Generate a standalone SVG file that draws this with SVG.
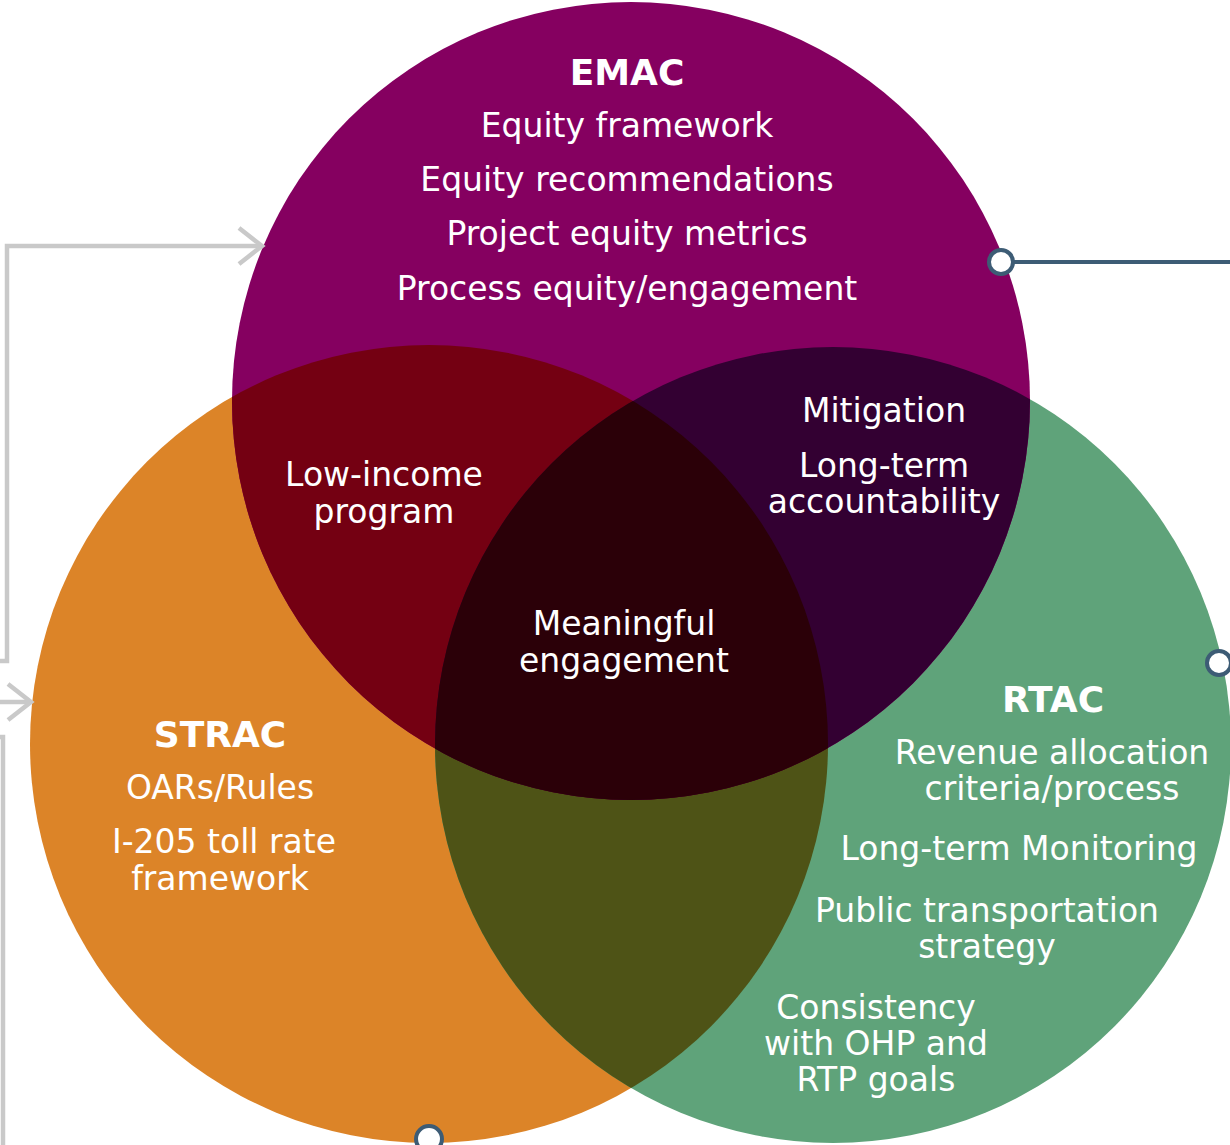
<svg xmlns="http://www.w3.org/2000/svg" width="1230" height="1145" viewBox="0 0 1230 1145">
  <style>
    .t { font-family: "DejaVu Sans", "Liberation Sans", sans-serif; font-size: 33px; fill: #FFFFFF; text-anchor: middle; }
    .h { font-family: "DejaVu Sans", "Liberation Sans", sans-serif; font-size: 36px; font-weight: bold; fill: #FFFFFF; text-anchor: middle; }
    .gray { fill: none; stroke: #C9C9C9; stroke-width: 4.5; }
    .teal { fill: none; stroke: #3D5C75; stroke-width: 4; }
    .dot { fill: #FFFFFF; stroke: #3D5C75; stroke-width: 4; }
  </style>
  <defs>
    <circle id="cE" cx="631" cy="401" r="399"/>
    <circle id="cS" cx="429" cy="744" r="399"/>
    <circle id="cR" cx="833" cy="745" r="398"/>
    <clipPath id="clipS"><use href="#cS"/></clipPath>
    <clipPath id="clipR"><use href="#cR"/></clipPath>
    <marker id="chev" markerUnits="userSpaceOnUse" markerWidth="40" markerHeight="50" viewBox="0 0 40 50" refX="30" refY="25" orient="auto">
      <path d="M7,7 L30,25 L7,43" fill="none" stroke="#C9C9C9" stroke-width="4.5"/>
    </marker>
  </defs>

  <rect width="1230" height="1145" fill="#FFFFFF"/>

  <g id="shapes">
    <use href="#cS" fill="#DC8428"/>
    <use href="#cR" fill="#5FA37A"/>
    <use href="#cE" fill="#850060"/>
    <g clip-path="url(#clipS)"><use href="#cR" fill="#4E5316"/></g>
    <g clip-path="url(#clipS)"><use href="#cE" fill="#740012"/></g>
    <g clip-path="url(#clipR)"><use href="#cE" fill="#330032"/></g>
    <g clip-path="url(#clipR)"><g clip-path="url(#clipS)"><use href="#cE" fill="#2B0008"/></g></g>
  </g>

  <g id="connectors">
    <path class="gray" d="M0,661 H7 V246 H262" marker-end="url(#chev)"/>
    <path class="gray" d="M0,702 H31" marker-end="url(#chev)"/>
    <path class="gray" d="M0,737 H3 V1145"/>
    <path class="teal" d="M1001,262 H1230"/>
    <circle class="dot" cx="1001" cy="262" r="12"/>
    <circle class="dot" cx="1219" cy="663" r="12"/>
    <circle class="dot" cx="429" cy="1139" r="13"/>
  </g>

  <g id="EMAC">
    <text class="h" x="627" y="85">EMAC</text>
    <text class="t" x="627" y="137">Equity framework</text>
    <text class="t" x="627" y="191">Equity recommendations</text>
    <text class="t" x="627" y="245">Project equity metrics</text>
    <text class="t" x="627" y="300">Process equity/engagement</text>
  </g>

  <g id="STRAC">
    <text class="h" x="220" y="747">STRAC</text>
    <text class="t" x="220" y="799">OARs/Rules</text>
    <text class="t" x="224" y="853">I-205 toll rate</text>
    <text class="t" x="220" y="890">framework</text>
  </g>

  <g id="RTAC">
    <text class="h" x="1053" y="712">RTAC</text>
    <text class="t" x="1052" y="764">Revenue allocation</text>
    <text class="t" x="1052" y="800">criteria/process</text>
    <text class="t" x="1019" y="860">Long-term Monitoring</text>
    <text class="t" x="987" y="922">Public transportation</text>
    <text class="t" x="987" y="958">strategy</text>
    <text class="t" x="876" y="1019">Consistency</text>
    <text class="t" x="876" y="1055">with OHP and</text>
    <text class="t" x="876" y="1091">RTP goals</text>
  </g>

  <g id="EMAC-STRAC">
    <text class="t" x="384" y="486">Low-income</text>
    <text class="t" x="384" y="523">program</text>
  </g>

  <g id="EMAC-RTAC">
    <text class="t" x="884" y="422">Mitigation</text>
    <text class="t" x="884" y="477">Long-term</text>
    <text class="t" x="884" y="513">accountability</text>
  </g>

  <g id="ALL">
    <text class="t" x="624" y="635">Meaningful</text>
    <text class="t" x="624" y="672">engagement</text>
  </g>
</svg>
